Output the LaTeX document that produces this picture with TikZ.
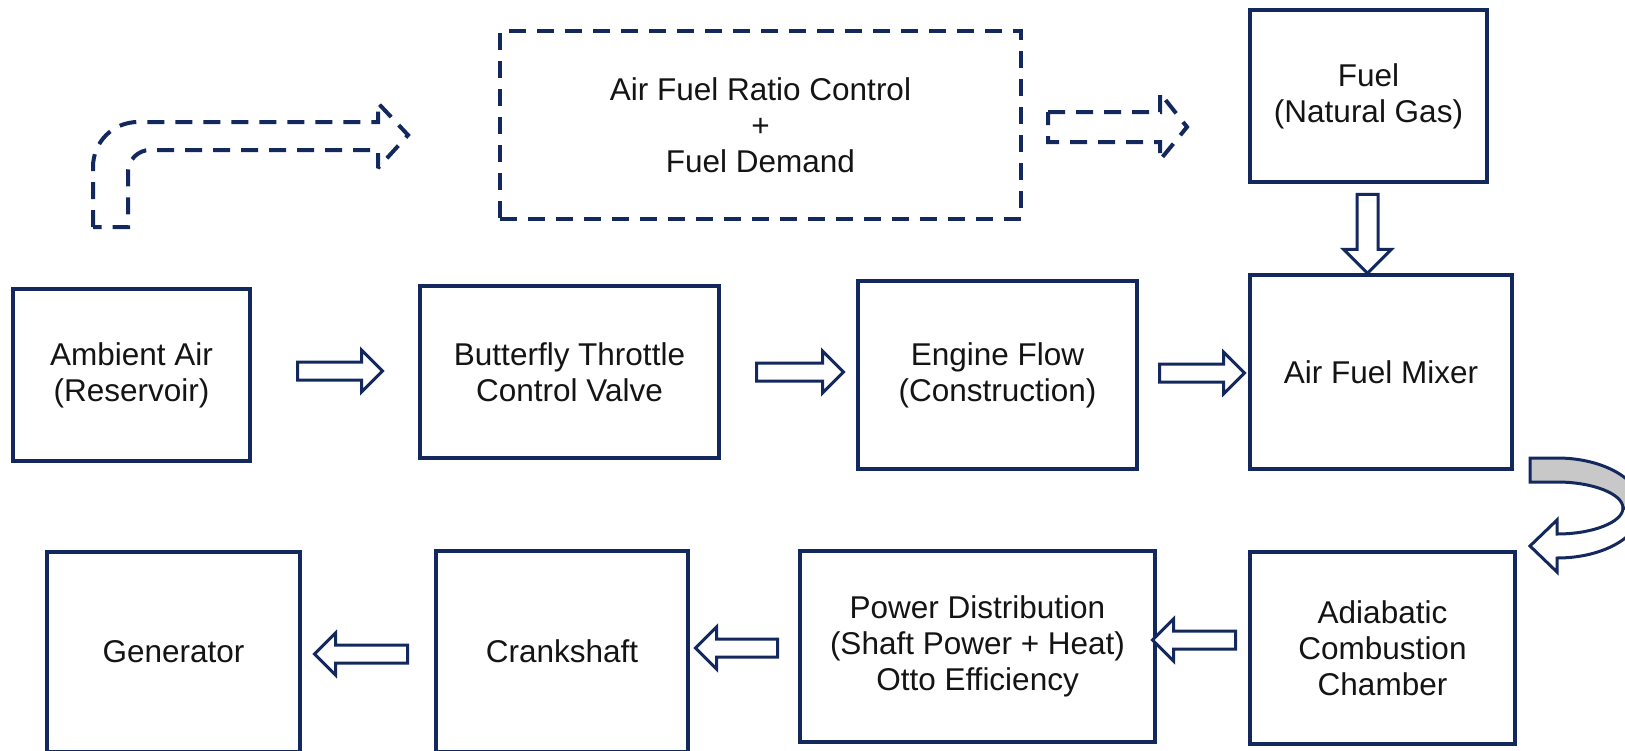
\documentclass[tikz,border=0pt]{standalone}
\usepackage{fontspec}
\setmainfont{Liberation Sans}
\usetikzlibrary{shapes.arrows}
\definecolor{navy}{HTML}{13295E}
\definecolor{bandgray}{RGB}{200,200,200}
\begin{document}
\begin{tikzpicture}[x=1pt,y=-1pt,
  box/.style={draw=navy, line width=4pt, fill=white, align=center,
    font=\fontsize{31.5}{36}\selectfont, text=black!92, inner sep=0pt, outer sep=0pt},
  barrow/.style={single arrow, draw=navy, line width=3pt, fill=white,
    inner xsep=0pt, inner ysep=7.5pt, single arrow head extend=12pt, outer sep=0pt},
  dashline/.style={draw=navy, line width=4pt, dash pattern=on 17pt off 11pt}]
\useasboundingbox (0,0) rectangle (1625,750);
\clip (0,0) rectangle (1625,750);
\fill[white] (0,0) rectangle (1625,750);

% top row
\node[box, dashline, minimum width=521pt, minimum height=188pt] (afr) at (760.5,125)
  {Air Fuel Ratio Control\\+\\Fuel Demand};
\node[box, minimum width=237pt, minimum height=172pt] (fuel) at (1368.5,96)
  {Fuel\\(Natural Gas)};

% middle row
\node[box, minimum width=237pt, minimum height=172pt] (amb) at (131.5,375)
  {Ambient Air\\(Reservoir)};
\node[box, minimum width=299pt, minimum height=172pt] (btv) at (569.5,372)
  {Butterfly Throttle\\Control Valve};
\node[box, minimum width=279pt, minimum height=188pt] (eng) at (997.5,375)
  {Engine Flow\\(Construction)};
\node[box, minimum width=262pt, minimum height=194pt] (mix) at (1381,372)
  {Air Fuel Mixer};

% bottom row
\node[box, minimum width=253pt, minimum height=200pt] (gen) at (173.5,652)
  {Generator};
\node[box, minimum width=252pt, minimum height=201pt] (crank) at (562,651.5)
  {Crankshaft};
\node[box, minimum width=355pt, minimum height=191pt] (pow) at (977.5,646.5)
  {Power Distribution\\(Shaft Power + Heat)\\Otto Efficiency};
\node[box, minimum width=265pt, minimum height=192pt] (adi) at (1382.5,648)
  {Adiabatic\\Combustion\\Chamber};

% block arrows
\node[barrow, minimum height=85pt] (a1) at (335.5,371) {};
\node[barrow, minimum height=87pt] (a2) at (795.5,372) {};
\node[barrow, minimum height=85pt] (a3) at (1197.5,373) {};
\node[barrow, minimum height=79pt, inner ysep=9pt, single arrow head extend=13.5pt, rotate=-90] (a4) at (1367.5,228.5) {};
\node[barrow, minimum height=83pt, rotate=180] (b1) at (1198.5,640) {};
\node[barrow, minimum height=82pt, rotate=180] (b2) at (741,648) {};
\node[barrow, minimum height=93pt, rotate=180] (b3) at (365.5,654) {};

% dashed bent arrow (top left)
\draw[dashline, line join=miter, miter limit=2]
  (93,227) -- (93,167) .. controls (93,142) and (113,122) .. (138,122)
  -- (378,122) -- (378,103) -- (408,135) -- (378,168) -- (378,150)
  -- (150,150) .. controls (138,150) and (128,160) .. (128,172)
  -- (128,227) -- cycle;

% dashed straight arrow (to fuel)
\draw[dashline, line join=miter, miter limit=2]
  (1048,112) -- (1160,112) -- (1160,93) -- (1187,127) -- (1160,160) -- (1160,142)
  -- (1048,142) -- cycle;

% curved arrow (mixer to combustion chamber)
\draw[navy, line width=3pt, fill=white, line join=miter, miter limit=3]
  (1642,508) .. controls (1642,536) and (1604,558) .. (1557,558)
  -- (1557,572) -- (1530,546) -- (1557,520) -- (1557,534)
  .. controls (1593,534) and (1623,522) .. (1623,508) -- cycle;
\draw[navy, line width=3pt, fill=bandgray, line join=miter]
  (1530,458) -- (1557,458) .. controls (1604,458) and (1642,480) .. (1642,508)
  -- (1623,508) .. controls (1623,494) and (1593,482) .. (1557,482) -- (1530,482) -- cycle;
\end{tikzpicture}
\end{document}
